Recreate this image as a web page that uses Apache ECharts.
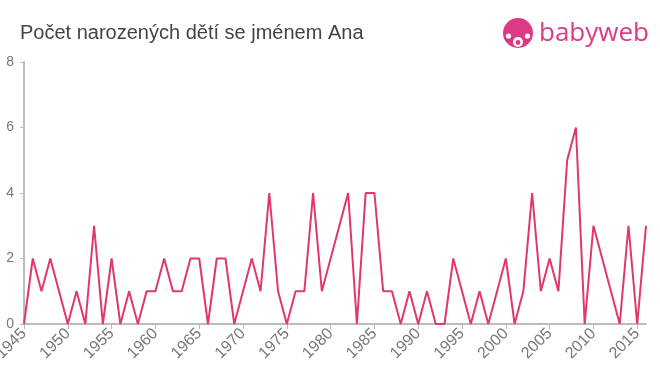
<!DOCTYPE html>
<html>
<head>
<meta charset="utf-8">
<script src="https://cdn.jsdelivr.net/npm/echarts@6/dist/echarts.min.js"></script>
<style>
html,body{margin:0;padding:0;background:#fff;}
#c{width:660px;height:375px;}
</style>
</head>
<body>
<div id="c"></div>
<script>
const title = 'Počet narozených dětí se jménem Ana';
const years = [];
for (let y = 1945; y <= 2016; y++) years.push(String(y));
const counts = [
  0,2,1,2,1,0,1,0,3,0, // 1945-1954
  2,0,1,0,1,1,2,1,1,2, // 1955-1964
  2,0,2,2,0,1,2,1,4,1, // 1965-1974
  0,1,1,4,1,2,3,4,0,4, // 1975-1984
  4,1,1,0,1,0,1,0,0,2, // 1985-1994
  1,0,1,0,1,2,0,1,4,1, // 1995-2004
  2,1,5,6,0,3,2,1,0,3, // 2005-2014
  0,3                  // 2015-2016
];
const yTicks = [0, 2, 4, 6, 8];
const FONT = '"Liberation Sans", Arial, Helvetica, sans-serif';

const chart = echarts.init(document.getElementById('c'), null, {renderer: 'canvas'});
chart.setOption({
  animation: false,
  backgroundColor: '#fff',
  title: {
    text: title,
    left: 15, top: 18,
    textStyle: {fontFamily: FONT, fontSize: 20, fontWeight: 'normal', color: '#444'}
  },
  graphic: [
    {type: 'circle', shape: {cx: 518, cy: 33, r: 15}, style: {fill: '#dd3a86'}},
    {type: 'circle', shape: {cx: 518, cy: 42, r: 5}, style: {fill: '#fff'}},
    {type: 'circle', shape: {cx: 518, cy: 42.5, r: 2.4}, style: {fill: '#dd3a86'}},
    {type: 'circle', shape: {cx: 508.5, cy: 36, r: 2.6}, style: {fill: '#fff'}},
    {type: 'circle', shape: {cx: 527.5, cy: 36, r: 2.6}, style: {fill: '#fff'}},
    {type: 'text', left: 539, top: 21, style: {text: 'babyweb', fill: '#dd3a86', font: '500 26px "Open Sans", Lato, sans-serif'}}
  ],
  grid: {left: 24, right: 14, top: 62, bottom: 51, containLabel: false, outerBoundsMode: 'none'},
  xAxis: {
    type: 'category',
    data: years,
    boundaryGap: false,
    axisLine: {lineStyle: {color: '#bbb', width: 2}},
    axisTick: {show: true, interval: 4, length: 5, lineStyle: {color: '#bbb', width: 1}},
    axisLabel: {interval: 4, rotate: 45, color: '#777', fontSize: 16, margin: 7, fontFamily: FONT},
    splitLine: {show: false}
  },
  yAxis: {
    type: 'value',
    min: 0, max: 8, interval: 2,
    axisLine: {show: true, lineStyle: {color: '#bbb', width: 2}},
    axisTick: {show: true, length: 4, lineStyle: {color: '#bbb'}},
    axisLabel: {color: '#777', fontSize: 14, margin: 10, fontFamily: FONT,
      formatter: v => yTicks.includes(v) ? String(v) : ''},
    splitLine: {show: false}
  },
  series: [{
    type: 'line',
    data: counts,
    symbol: 'none',
    lineStyle: {color: '#e0386a', width: 2},
    itemStyle: {color: '#e0386a'}
  }]
});
</script>
</body>
</html>
